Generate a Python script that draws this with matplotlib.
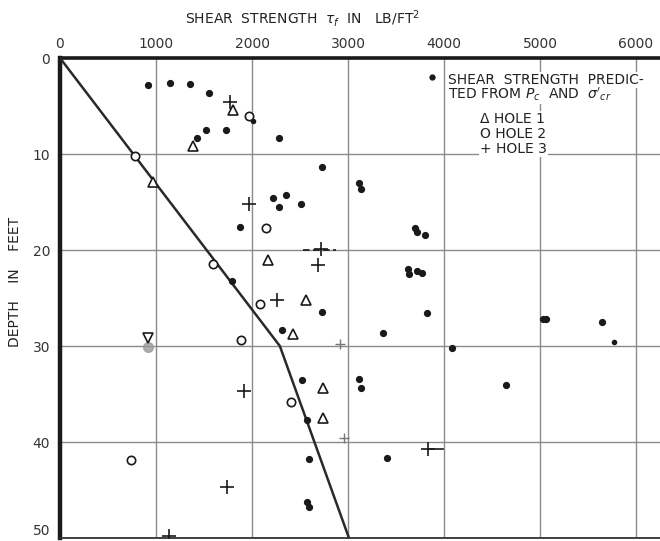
import matplotlib
matplotlib.use("Agg")
import matplotlib.pyplot as plt

plt.rcParams["font.family"] = ["DejaVu Sans"]
plt.rcParams["mathtext.fontset"] = "dejavusans"

# Shear strength predicted from Pc and sigma'cr (lb/ft^2) vs depth (ft)
pred_strength = [920, 1146, 1358, 1556, 1517, 1431, 1726, 2285, 2726, 3110,
                 3140, 2215, 2354, 2278, 2514, 1878, 1795, 3700, 3720, 3800,
                 3620, 3640, 3720, 3770, 2733, 3819, 3368, 5030, 5060, 5642,
                 4087, 3118, 3132, 4646, 2517, 2309, 2569, 2590, 3403, 2569,
                 2590]
pred_depth = [2.8, 2.6, 2.7, 3.6, 7.5, 8.3, 7.5, 8.3, 11.4, 13.0,
              13.6, 14.6, 14.3, 15.5, 15.2, 17.6, 23.2, 17.7, 18.1, 18.4,
              22.0, 22.5, 22.2, 22.4, 26.5, 26.6, 28.6, 27.2, 27.2, 27.5,
              30.2, 33.4, 34.4, 34.1, 33.5, 28.3, 37.7, 41.8, 41.7, 46.2,
              46.8]
pred_small_strength = [2014, 5774]
pred_small_depth = [6.6, 29.6]

# Measured strengths, three borings
hole1_strength = [1799, 1389, 972, 2167, 2559, 2431, 2736, 2743]
hole1_depth = [5.4, 9.2, 12.9, 21.0, 25.2, 28.7, 34.4, 37.5]
hole1_inv_strength = [913]
hole1_inv_depth = [29.2]

hole2_strength = [1965, 781, 2146, 1594, 2083, 1889, 2403, 736]
hole2_depth = [6.0, 10.2, 17.7, 21.5, 25.6, 29.4, 35.8, 41.9]

hole3_strength = [1767, 1969, 2719, 2684, 2260, 1917, 3837, 1736, 1139]
hole3_depth = [4.6, 15.2, 19.9, 21.6, 25.2, 34.7, 40.7, 44.7, 49.8]
hole3_faint_strength = [2917, 2960]
hole3_faint_depth = [29.8, 39.6]

# Design strength line
trend_strength = [0, 2290, 3010]
trend_depth = [0, 30, 50]

x_ticks = [0, 1000, 2000, 3000, 4000, 5000, 6000]
y_ticks = [0, 10, 20, 30, 40, 50]

W, H = 660, 541
fig = plt.figure(figsize=(W / 100, H / 100), dpi=100)
ax = fig.add_axes([60 / W, 3 / H, 600 / W, 480 / H])

ink = "#1a1a1a"
ax.set_xlim(0, 6250)
ax.set_ylim(50, 0)
ax.set_xticks(x_ticks)
ax.set_yticks(y_ticks)
ax.xaxis.tick_top()
ax.tick_params(axis="both", length=0, labelsize=10, labelcolor="#333333")
ax.tick_params(axis="x", pad=5)
ax.tick_params(axis="y", pad=7)
ax.grid(True, color="#8a8a8a", lw=1.0)
ax.set_axisbelow(True)
ax.get_yticklabels()[-1].set_verticalalignment("bottom")

for side in ("left", "top"):
    ax.spines[side].set_color(ink)
ax.spines["left"].set_linewidth(3.2)
ax.spines["top"].set_linewidth(2.6)
ax.spines["bottom"].set_linewidth(1.3)
ax.spines["bottom"].set_color("#333333")
ax.spines["right"].set_visible(False)

ax.plot(trend_strength, trend_depth, color="#2a2a2a", lw=1.8, zorder=3)

ax.plot(pred_strength, pred_depth, "o", color=ink, ms=4.2, mec=ink, zorder=4)
ax.plot(pred_small_strength, pred_small_depth, "o", color=ink, ms=3.0, zorder=4)

ax.plot(hole1_strength, hole1_depth, "^", mfc="white", mec=ink, mew=1.2,
        ms=7.5, zorder=4)
ax.plot(hole1_inv_strength, [d + 0.9 for d in hole1_inv_depth], "o",
        color="#9a9a9a", ms=7, alpha=0.8, zorder=4)
ax.plot(hole1_inv_strength, hole1_inv_depth, "v", mfc="white", mec=ink,
        mew=1.2, ms=7.5, zorder=5)

ax.plot(hole2_strength, hole2_depth, "o", mfc="white", mec=ink, mew=1.2,
        ms=6.0, zorder=4)

ax.plot(hole3_strength, hole3_depth, "+", color=ink, mew=1.2, ms=10, zorder=4)
ax.plot(hole3_faint_strength, hole3_faint_depth, "+", color="#777777",
        mew=1.0, ms=7, zorder=4)
ax.plot([2530, 2880], [20, 20], color=ink, lw=1.2, ls=(0, (4, 2)), zorder=4)
ax.plot([3837, 3990], [40.7, 40.7], color=ink, lw=1.2, zorder=4)

# Key
box = dict(facecolor="white", edgecolor="none", pad=0.6)
txt = dict(fontsize=10, color="#222222", va="center", ha="left", zorder=6,
           bbox=box)
ax.plot([3875], [2.0], "o", color=ink, ms=3.5, zorder=6)
ax.text(4042, 2.3, "SHEAR  STRENGTH  PREDIC-", **txt)
ax.text(4042, 3.8, r"TED FROM $P_c$  AND  $\sigma'_{cr}$", **txt)
ax.text(4375, 6.35, "Δ HOLE 1", **txt)
ax.text(4375, 7.9, "O HOLE 2", **txt)
ax.text(4375, 9.5, "+ HOLE 3", **txt)

fig.text(302 / W, 1 - 18 / H, r"SHEAR  STRENGTH  $\tau_f$  IN   LB/FT$^2$",
         ha="center", va="center", fontsize=10, color="#222222")
fig.text(15 / W, 1 - 282 / H, "DEPTH    IN    FEET", rotation=90,
         ha="center", va="center", fontsize=10, color="#222222")

fig.savefig("out.png", dpi=100, facecolor="white")
